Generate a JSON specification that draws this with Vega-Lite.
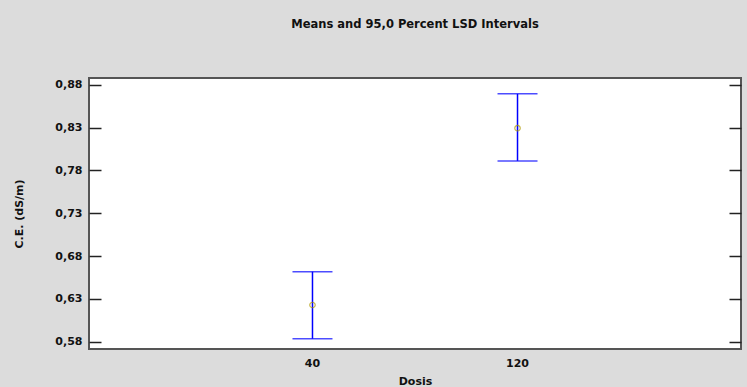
{
  "$schema": "https://vega.github.io/schema/vega-lite/v6.json",
  "width": 652,
  "height": 271,
  "autosize": "none",
  "padding": {"left": 89, "top": 78, "right": 6, "bottom": 38},
  "background": "#dcdcdc",
  "title": {
    "text": "Means and 95,0 Percent LSD Intervals",
    "font": "DejaVu Sans",
    "fontSize": 11.5,
    "fontWeight": "bold",
    "color": "#111111",
    "anchor": "middle",
    "offset": 48
  },
  "config": {
    "view": {"fill": "white", "stroke": "#555555", "strokeWidth": 2},
    "axis": {
      "labelFont": "DejaVu Sans",
      "labelFontSize": 11,
      "labelFontWeight": "bold",
      "labelColor": "#111111",
      "titleFont": "DejaVu Sans",
      "titleFontSize": 11,
      "titleFontWeight": "bold",
      "titleColor": "#111111",
      "grid": false,
      "domain": false
    }
  },
  "data": {
    "values": [
      {"Dosis": "40", "mean": 0.6229, "lower": 0.5835, "upper": 0.6618},
      {"Dosis": "120", "mean": 0.8294, "lower": 0.7912, "upper": 0.8695}
    ]
  },
  "encoding": {
    "x": {
      "field": "Dosis",
      "type": "ordinal",
      "sort": ["40", "120"],
      "scale": {"type": "band", "paddingInner": 0, "paddingOuter": 0.59},
      "axis": {"title": "Dosis", "labelAngle": 0, "ticks": false, "labelPadding": 8, "titlePadding": 7}
    }
  },
  "layer": [
    {
      "mark": {"type": "rule", "color": "#0000ff", "strokeWidth": 1.5},
      "encoding": {
        "y": {
          "field": "lower",
          "type": "quantitative",
          "scale": {"domain": [0.5715, 0.888], "nice": false, "zero": false},
          "axis": {
            "title": "C.E. (dS/m)",
            "values": [0.58, 0.63, 0.68, 0.73, 0.78, 0.83, 0.88],
            "labelExpr": "replace(format(datum.value, '.2f'), '.', ',')",
            "tickSize": -12,
            "tickColor": "#222222",
            "tickWidth": 1.5,
            "labelPadding": 19,
            "titlePadding": 30
          }
        },
        "y2": {"field": "upper"}
      }
    },
    {
      "mark": {"type": "tick", "color": "#0000ff", "thickness": 1.5, "size": 40},
      "encoding": {
        "y": {"field": "lower", "type": "quantitative", "axis": null}
      }
    },
    {
      "mark": {"type": "tick", "color": "#0000ff", "thickness": 1.5, "size": 40},
      "encoding": {
        "y": {
          "field": "upper",
          "type": "quantitative",
          "axis": {
            "orient": "right",
            "title": null,
            "labels": false,
            "values": [0.58, 0.63, 0.68, 0.73, 0.78, 0.83, 0.88],
            "tickSize": -12,
            "tickColor": "#222222",
            "tickWidth": 1.5
          }
        }
      }
    },
    {
      "mark": {"type": "point", "shape": "circle", "filled": false, "color": "#b09a00", "size": 30, "strokeWidth": 1.2},
      "encoding": {
        "y": {"field": "mean", "type": "quantitative", "axis": null}
      }
    }
  ],
  "resolve": {"axis": {"y": "independent"}}
}
